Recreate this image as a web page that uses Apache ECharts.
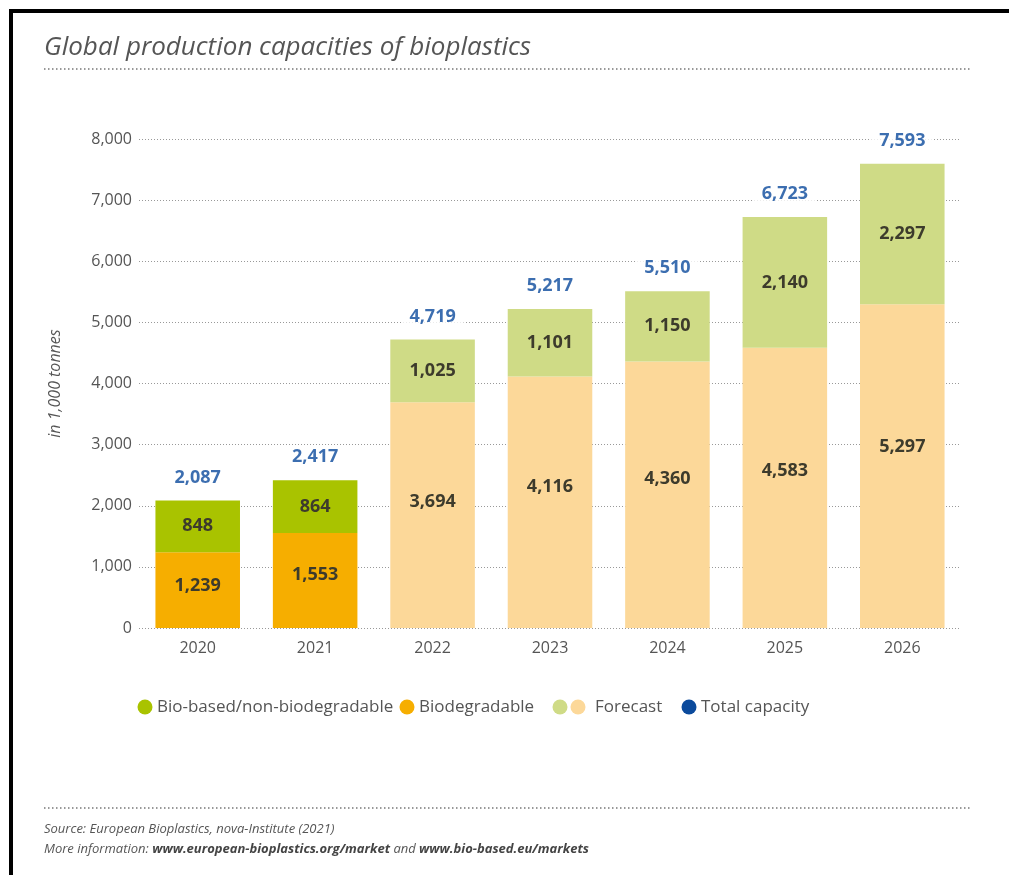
<!DOCTYPE html>
<html>
<head>
<meta charset="utf-8">
<title>Global production capacities of bioplastics</title>
<script src="https://cdn.jsdelivr.net/npm/echarts@6/dist/echarts.min.js"></script>
<style>
  html, body { margin: 0; padding: 0; background: #fff; }
  #chart { width: 1009px; height: 875px; }
</style>
</head>
<body>
<div id="chart"></div>
<script>
// data (in 1,000 tonnes)
const years = ["2020", "2021", "2022", "2023", "2024", "2025", "2026"];
const biodegradable = [1239, 1553, 3694, 4116, 4360, 4583, 5297];
const bioBased = [848, 864, 1025, 1101, 1150, 2140, 2297];
const totals = [2087, 2417, 4719, 5217, 5510, 6723, 7593];
const firstForecast = 2; // 2022 onwards is forecast

const colors = {
  bioBased: "#a9c300",
  biodegradable: "#f6ae00",
  forecastGreen: "#cfdb86",
  forecastBeige: "#fcd899",
  total: "#0b4a9c",
  text: "#555555",
  label: "#3d3b2c"
};

const FONT = "'Open Sans', 'Noto Sans', sans-serif";

function items(values, normal, forecast) {
  return values.map((v, i) => ({
    value: v,
    itemStyle: { color: i >= firstForecast ? forecast : normal }
  }));
}

const innerLabel = {
  show: true,
  position: "inside",
  fontFamily: FONT,
  fontWeight: "bold",
  fontSize: 18,
  color: colors.label,
  formatter: p => p.value.toLocaleString("en-US")
};

const chart = echarts.init(document.getElementById("chart"), null, { renderer: "canvas" });

// custom legend (the forecast entry has two dots)
const legendY = 707;
const legendItems = [
  { dots: [colors.bioBased], x: 145, text: "Bio-based/non-biodegradable" },
  { dots: [colors.biodegradable], x: 407, text: "Biodegradable" },
  { dots: [colors.forecastGreen, colors.forecastBeige], x: 560, text: "Forecast" },
  { dots: [colors.total], x: 689, text: "Total capacity" }
];
const legendGraphics = [];
legendItems.forEach(it => {
  it.dots.forEach((c, k) => {
    legendGraphics.push({
      type: "circle",
      shape: { cx: it.x + k * 18, cy: legendY, r: 7.5 },
      style: { fill: c }
    });
  });
  legendGraphics.push({
    type: "text",
    x: it.x + 12 + (it.dots.length - 1) * 18 + (it.dots.length > 1 ? 5 : 0),
    y: legendY,
    style: {
      text: it.text,
      fill: colors.text,
      font: "17px " + FONT,
      verticalAlign: "middle"
    }
  });
});

chart.setOption({
  backgroundColor: "#fff",
  animation: false,
  grid: { left: 139, right: 48, top: 139, bottom: 247 },
  xAxis: {
    type: "category",
    data: years,
    axisLine: { show: false },
    axisTick: { show: false },
    axisLabel: { color: colors.text, fontSize: 16, fontFamily: FONT, margin: 12 }
  },
  yAxis: {
    type: "value",
    min: 0,
    max: 8000,
    interval: 1000,
    name: "in 1,000 tonnes",
    nameLocation: "middle",
    nameRotate: 90,
    nameGap: 76,
    nameTextStyle: { color: colors.text, fontSize: 16, fontStyle: "italic", fontFamily: FONT },
    axisLine: { show: false },
    axisTick: { show: false },
    axisLabel: {
      color: colors.text,
      fontSize: 16,
      fontFamily: FONT,
      margin: 7,
      formatter: v => v.toLocaleString("en-US")
    },
    splitLine: { lineStyle: { color: "#999", type: [1, 2], width: 1 } }
  },
  series: [
    {
      name: "Biodegradable",
      type: "bar",
      stack: "cap",
      barWidth: "72%",
      data: items(biodegradable, colors.biodegradable, colors.forecastBeige),
      // the source sets these numbers a little above the middle of the bar
      label: Object.assign({}, innerLabel, {
        position: ["50%", "44%"],
        align: "center",
        verticalAlign: "middle"
      })
    },
    {
      name: "Bio-based/non-biodegradable",
      type: "bar",
      stack: "cap",
      barWidth: "72%",
      data: items(bioBased, colors.bioBased, colors.forecastGreen),
      label: innerLabel
    },
    {
      name: "Total capacity",
      type: "scatter",
      symbolSize: 0,
      data: totals,
      z: 5,
      label: {
        show: true,
        position: "top",
        distance: 14,
        fontFamily: FONT,
        fontWeight: "bold",
        fontSize: 18,
        color: colors.total,
        backgroundColor: "#fff",
        padding: [0, 8],
        formatter: p => p.value.toLocaleString("en-US")
      }
    }
  ],
  graphic: [
    // black frame at top and left
    { type: "rect", shape: { x: 9, y: 9, width: 1000, height: 4 }, style: { fill: "#000" } },
    { type: "rect", shape: { x: 9, y: 9, width: 4, height: 866 }, style: { fill: "#000" } },
    {
      type: "text",
      x: 44,
      y: 48,
      style: {
        text: "Global production capacities of bioplastics",
        fill: colors.text,
        font: "italic 26px " + FONT,
        verticalAlign: "middle"
      }
    },
    {
      type: "line",
      shape: { x1: 44, y1: 69, x2: 970, y2: 69 },
      style: { stroke: "#777", lineWidth: 1.5, lineDash: [1.5, 2.5] }
    },
    {
      type: "line",
      shape: { x1: 44, y1: 808, x2: 970, y2: 808 },
      style: { stroke: "#777", lineWidth: 1.5, lineDash: [1.5, 2.5] }
    },
    {
      type: "text",
      x: 44,
      y: 829,
      style: {
        text: "Source: European Bioplastics, nova-Institute (2021)",
        fill: colors.text,
        font: "italic 13px " + FONT,
        verticalAlign: "middle"
      }
    },
    {
      type: "text",
      x: 44,
      y: 849,
      style: {
        text: "{n|More information: }{b|www.european-bioplastics.org/market}{n| and }{b|www.bio-based.eu/markets}",
        verticalAlign: "middle",
        rich: {
          n: { fill: colors.text, font: "italic 13px " + FONT },
          b: { fill: "#444", font: "italic bold 13px " + FONT }
        }
      }
    }
  ].concat(legendGraphics)
});
</script>
</body>
</html>
